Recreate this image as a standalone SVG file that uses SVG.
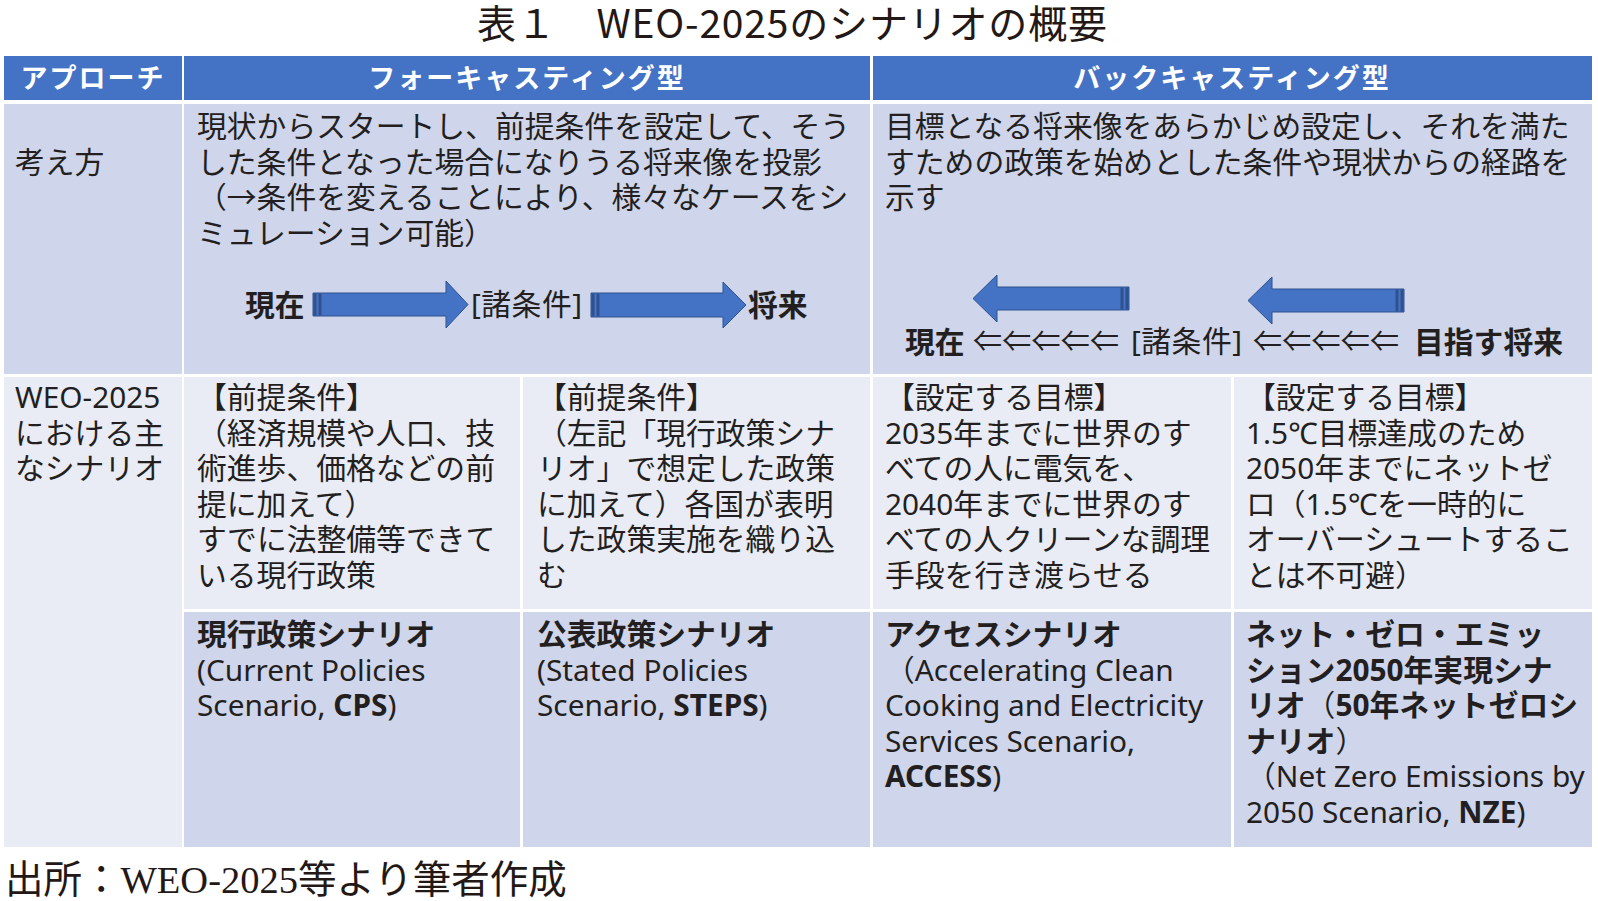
<svg xmlns="http://www.w3.org/2000/svg" width="1598" height="901" viewBox="0 0 1598 901">
<style>
  .hd { fill: #4472C4; }
  .c1 { fill: #CFD5EA; }
  .c2 { fill: #E9EBF5; }
  .ht { font-family: 'Noto Sans CJK JP', 'Noto Sans', sans-serif; font-size: 27px; font-weight: 700; fill: #FFFFFF; letter-spacing: 2px; text-anchor: middle; }
  .bt { font-family: 'Noto Sans', 'Noto Sans CJK JP', sans-serif; font-size: 29.8px; fill: #231F20; }
  .b { font-weight: 700; }
  .ttl { font-family: 'Noto Sans CJK JP', 'Noto Sans', sans-serif; font-size: 39px; fill: #231815; text-anchor: middle; }
  .ftr { font-family: 'Liberation Serif', 'Noto Sans CJK JP', serif; font-size: 38.5px; fill: #231815; }
  .arr { fill: #4472C4; stroke: #2F528F; stroke-width: 1; }
  .bar { fill: #2F528F; }
  .dbl { font-family: 'Noto Sans CJK JP', sans-serif; font-size: 29px; fill: #231F20; }
</style>

<g id="title">
  <text class="ttl" x="792" y="38" textLength="630" lengthAdjust="spacing">表１　WEO-2025のシナリオの概要</text>
</g>

<g id="header-approach">
  <rect class="hd" x="4" y="56" width="178" height="44"/>
  <text class="ht" x="93" y="88">アプローチ</text>
</g>
<g id="header-forecasting">
  <rect class="hd" x="184" y="56" width="686" height="44"/>
  <text class="ht" x="527" y="88">フォーキャスティング型</text>
</g>
<g id="header-backcasting">
  <rect class="hd" x="873" y="56" width="719" height="44"/>
  <text class="ht" x="1232" y="88">バックキャスティング型</text>
</g>

<g id="row-kangaekata">
  <rect class="c1" x="4" y="104" width="178" height="270"/>
  <text class="bt" x="15" y="172.6">考え方</text>
</g>

<g id="forecasting-concept">
  <rect class="c1" x="184" y="104" width="686" height="270"/>
  <text class="bt" x="197" y="137">現状からスタートし、前提条件を設定して、そう</text>
  <text class="bt" x="197" y="172.6">した条件となった場合になりうる将来像を投影</text>
  <text class="bt" x="197" y="208.2">（→条件を変えることにより、様々なケースをシ</text>
  <text class="bt" x="197" y="243.8">ミュレーション可能）</text>
  <text class="bt b" x="245" y="316" font-size="29">現在</text>
  <text class="bt" x="471" y="315" textLength="111" lengthAdjust="spacing">[諸条件]</text>
  <text class="bt b" x="748" y="316" font-size="29">将来</text>
</g>

<g id="backcasting-concept">
  <rect class="c1" x="873" y="104" width="719" height="270"/>
  <text class="bt" x="885" y="137">目標となる将来像をあらかじめ設定し、それを満た</text>
  <text class="bt" x="885" y="172.6">すための政策を始めとした条件や現状からの経路を</text>
  <text class="bt" x="885" y="208.2">示す</text>
  <text class="bt b" x="905" y="353" font-size="29">現在</text>
  <text class="dbl" x="973" y="352" textLength="146" lengthAdjust="spacing">⇐⇐⇐⇐⇐</text>
  <text class="bt" x="1131" y="352" textLength="111" lengthAdjust="spacing">[諸条件]</text>
  <text class="dbl" x="1253" y="352" textLength="146" lengthAdjust="spacing">⇐⇐⇐⇐⇐</text>
  <text class="bt b" x="1414" y="353" font-size="29">目指す将来</text>
</g>

<g id="row-scenarios">
  <rect class="c2" x="4" y="377" width="178" height="470"/>
  <text class="bt" x="15" y="408">WEO-2025</text>
  <text class="bt" x="15" y="443.6">における主</text>
  <text class="bt" x="15" y="479.2">なシナリオ</text>
</g>

<g id="cps-premise">
  <rect class="c2" x="184" y="377" width="336" height="232"/>
  <text class="bt" x="197" y="408">【前提条件】</text>
  <text class="bt" x="197" y="443.6">（経済規模や人口、技</text>
  <text class="bt" x="197" y="479.2">術進歩、価格などの前</text>
  <text class="bt" x="197" y="514.8">提に加えて）</text>
  <text class="bt" x="197" y="550.4">すでに法整備等できて</text>
  <text class="bt" x="197" y="586">いる現行政策</text>
</g>

<g id="steps-premise">
  <rect class="c2" x="523" y="377" width="347" height="232"/>
  <text class="bt" x="537" y="408">【前提条件】</text>
  <text class="bt" x="537" y="443.6">（左記「現行政策シナ</text>
  <text class="bt" x="537" y="479.2">リオ」で想定した政策</text>
  <text class="bt" x="537" y="514.8">に加えて）各国が表明</text>
  <text class="bt" x="537" y="550.4">した政策実施を織り込</text>
  <text class="bt" x="537" y="586">む</text>
</g>

<g id="access-target">
  <rect class="c2" x="873" y="377" width="358" height="232"/>
  <text class="bt" x="885" y="408">【設定する目標】</text>
  <text class="bt" x="885" y="443.6">2035年までに世界のす</text>
  <text class="bt" x="885" y="479.2">べての人に電気を、</text>
  <text class="bt" x="885" y="514.8">2040年までに世界のす</text>
  <text class="bt" x="885" y="550.4">べての人クリーンな調理</text>
  <text class="bt" x="885" y="586">手段を行き渡らせる</text>
</g>

<g id="nze-target">
  <rect class="c2" x="1234" y="377" width="358" height="232"/>
  <text class="bt" x="1246" y="408">【設定する目標】</text>
  <text class="bt" x="1246" y="443.6">1.5℃目標達成のため</text>
  <text class="bt" x="1246" y="479.2">2050年までにネットゼ</text>
  <text class="bt" x="1246" y="514.8">ロ（1.5℃を一時的に</text>
  <text class="bt" x="1246" y="550.4">オーバーシュートするこ</text>
  <text class="bt" x="1246" y="586">とは不可避）</text>
</g>

<g id="cps-scenario">
  <rect class="c1" x="184" y="612" width="336" height="235"/>
  <text class="bt b" x="197" y="645">現行政策シナリオ</text>
  <text class="bt" x="197" y="680.6">(Current Policies</text>
  <text class="bt" x="197" y="716.2">Scenario, <tspan class="b">CPS</tspan>)</text>
</g>

<g id="steps-scenario">
  <rect class="c1" x="523" y="612" width="347" height="235"/>
  <text class="bt b" x="537" y="645">公表政策シナリオ</text>
  <text class="bt" x="537" y="680.6">(Stated Policies</text>
  <text class="bt" x="537" y="716.2">Scenario, <tspan class="b">STEPS</tspan>)</text>
</g>

<g id="access-scenario">
  <rect class="c1" x="873" y="612" width="358" height="235"/>
  <text class="bt b" x="885" y="645">アクセスシナリオ</text>
  <text class="bt" x="885" y="680.6">（Accelerating Clean</text>
  <text class="bt" x="885" y="716.2">Cooking and Electricity</text>
  <text class="bt" x="885" y="751.8">Services Scenario,</text>
  <text class="bt" x="885" y="787.4"><tspan class="b">ACCESS</tspan>)</text>
</g>

<g id="nze-scenario">
  <rect class="c1" x="1234" y="612" width="358" height="235"/>
  <text class="bt b" x="1246" y="645">ネット・ゼロ・エミッ</text>
  <text class="bt b" x="1246" y="680.6">ション2050年実現シナ</text>
  <text class="bt" x="1246" y="716.2"><tspan class="b">リオ</tspan>（<tspan class="b">50年ネットゼロシ</tspan></text>
  <text class="bt" x="1246" y="751.8"><tspan class="b">ナリオ</tspan>）</text>
  <text class="bt" x="1246" y="787.4">（Net Zero Emissions by</text>
  <text class="bt" x="1246" y="823">2050 Scenario, <tspan class="b">NZE</tspan>)</text>
</g>

<g id="connectors">
  <path class="arr" d="M313,293 H446 V281 L468,304.5 L446,328 V316 H313 Z"/>
  <rect class="bar" x="313.5" y="293.5" width="3" height="22"/>
  <rect class="bar" x="318.5" y="293.5" width="3" height="22"/>
  <path class="arr" d="M591,293 H723 V282 L746,305 L723,328 V317 H591 Z"/>
  <rect class="bar" x="591.5" y="293.5" width="3" height="23"/>
  <rect class="bar" x="596.5" y="293.5" width="3" height="23"/>
  <path class="arr" d="M1129,287 H997 V275 L973,298.5 L997,322 V310 H1129 Z"/>
  <rect class="bar" x="1125.5" y="287.5" width="3" height="22"/>
  <rect class="bar" x="1120.5" y="287.5" width="3" height="22"/>
  <path class="arr" d="M1404,289 H1272 V277 L1248,300.5 L1272,324 V312 H1404 Z"/>
  <rect class="bar" x="1400.5" y="289.5" width="3" height="22"/>
  <rect class="bar" x="1395.5" y="289.5" width="3" height="22"/>
</g>

<g id="footer">
  <text class="ftr" x="5" y="893">出所：WEO-2025等より筆者作成</text>
</g>
</svg>
